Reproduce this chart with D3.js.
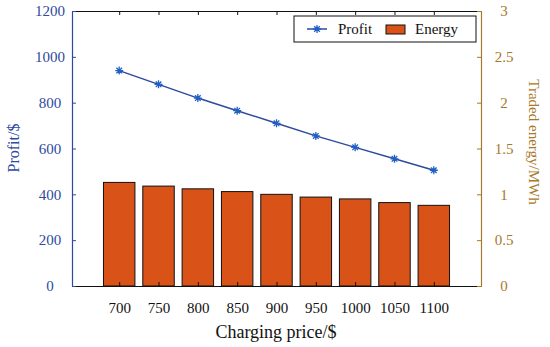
<!DOCTYPE html>
<html lang="en">
	<head>
		<meta charset="utf-8">
		<title>Profit and traded energy vs charging price</title>
		<script type="text/javascript" src="https://cdnjs.cloudflare.com/ajax/libs/d3/7.8.5/d3.min.js"></script>
		<style type="text/css">
			body { margin: 0; background: #fff; }
			svg text { font-family: "Liberation Serif", "Times New Roman", serif; }
		</style>
	</head>
	<body>
		<script type="text/javascript">

			// Size of the picture and the plot box
			var w = 550;
			var h = 347;
			var margin = { top: 11, right: 69, bottom: 61, left: 72 };
			var pw = w - margin.left - margin.right;
			var ph = h - margin.top - margin.bottom;
			var serif = "Liberation Serif, Times New Roman, serif";

			// Data
			var prices = [700, 750, 800, 850, 900, 950, 1000, 1050, 1100];
			var profit = [940, 880, 820, 765, 710, 655, 605, 555, 505];       // $
			var energy = [1.13, 1.09, 1.06, 1.03, 1.00, 0.97, 0.95, 0.91, 0.88]; // MWh
			var profitTicks = [0, 200, 400, 600, 800, 1000, 1200];
			var energyTicks = [0, 0.5, 1, 1.5, 2, 2.5, 3];

			var blue = "#2e4a9e";
			var markerBlue = "#2060c4";
			var brown = "#a8782a";
			var barFill = "#d95319";

			var svg = d3.select("body")
				.append("svg")
				.attr("width", w)
				.attr("height", h)
				.attr("font-family", serif);

			var g = svg.append("g")
				.attr("transform", "translate(" + margin.left + "," + margin.top + ")");

			// Scales
			var x = d3.scaleLinear().domain([640, 1160]).range([0, pw]);
			var yL = d3.scaleLinear().domain([0, 1200]).range([ph, 0]);
			var yR = d3.scaleLinear().domain([0, 3]).range([ph, 0]);
			var barW = x(740) - x(700);

			// Bars (energy)
			g.selectAll("rect.bar")
				.data(energy)
				.enter()
				.append("rect")
				.attr("class", "bar")
				.attr("x", function(d, i) { return x(prices[i]) - barW / 2; })
				.attr("y", function(d) { return yR(d); })
				.attr("width", barW)
				.attr("height", function(d) { return ph - yR(d); })
				.attr("fill", barFill)
				.attr("stroke", "#111")
				.attr("stroke-width", 1);

			// Profit line
			var line = d3.line()
				.x(function(d, i) { return x(prices[i]); })
				.y(function(d) { return yL(d); });

			g.append("path")
				.datum(profit)
				.attr("d", line)
				.attr("fill", "none")
				.attr("stroke", blue)
				.attr("stroke-width", 1.5);

			// asterisk marker (+ and x)
			function asterisk(sel, s) {
				var a = s * 0.7;
				sel.append("path")
					.attr("d", "M" + (-s) + ",0L" + s + ",0M0," + (-s) + "L0," + s +
						"M" + (-a) + "," + (-a) + "L" + a + "," + a +
						"M" + (-a) + "," + a + "L" + a + "," + (-a))
					.attr("stroke", markerBlue)
					.attr("stroke-width", 1.3)
					.attr("fill", "none");
			}

			g.selectAll("g.marker")
				.data(profit)
				.enter()
				.append("g")
				.attr("class", "marker")
				.attr("transform", function(d, i) { return "translate(" + x(prices[i]) + "," + yL(d) + ")"; })
				.each(function() { asterisk(d3.select(this), 4); });

			// Axes
			var fmt = function(d) { return String(d); };

			var xAxis = g.append("g")
				.attr("transform", "translate(0," + ph + ")")
				.call(d3.axisBottom(x).tickValues(prices).tickFormat(fmt).tickSizeInner(-4).tickSizeOuter(0));
			xAxis.selectAll("text").attr("y", 16).attr("fill", "#111");

			var xTop = g.append("g")
				.call(d3.axisTop(x).tickValues(prices).tickSizeInner(-4).tickSizeOuter(0).tickFormat(""));

			[xAxis, xTop].forEach(function(a) {
				a.select(".domain").attr("stroke", "#111");
				a.selectAll(".tick line").attr("stroke", "#111");
			});

			var leftAxis = g.append("g")
				.call(d3.axisLeft(yL).tickValues(profitTicks).tickFormat(fmt).tickSizeInner(-4).tickSizeOuter(0));
			leftAxis.select(".domain").attr("stroke", blue);
			leftAxis.selectAll(".tick line").attr("stroke", blue);
			leftAxis.selectAll("text")
				.attr("x", 50 - margin.left)
				.attr("text-anchor", "middle")
				.attr("fill", blue);

			var rightAxis = g.append("g")
				.attr("transform", "translate(" + pw + ",0)")
				.call(d3.axisRight(yR).tickValues(energyTicks).tickFormat(fmt).tickSizeInner(-4).tickSizeOuter(0));
			rightAxis.select(".domain").attr("stroke", brown);
			rightAxis.selectAll(".tick line").attr("stroke", brown);
			rightAxis.selectAll("text")
				.attr("x", 504 - margin.left - pw)
				.attr("text-anchor", "middle")
				.attr("fill", brown);

			[xAxis, xTop, leftAxis, rightAxis].forEach(function(a) {
				a.attr("font-family", serif).attr("font-size", 15);
				a.select(".domain").attr("stroke-width", 1.2);
			});

			// Axis titles
			svg.append("text")
				.attr("x", 276)
				.attr("y", 338)
				.attr("text-anchor", "middle")
				.attr("font-size", 18)
				.attr("fill", "#111")
				.text("Charging price/$");

			svg.append("text")
				.attr("transform", "translate(19,148) rotate(-90)")
				.attr("text-anchor", "middle")
				.attr("font-size", 16)
				.attr("fill", blue)
				.text("Profit/$");

			svg.append("text")
				.attr("transform", "translate(529,142) rotate(90)")
				.attr("text-anchor", "middle")
				.attr("font-size", 15)
				.attr("fill", brown)
				.text("Traded energy/MWh");

			// Legend
			var lg = svg.append("g");
			lg.append("rect")
				.attr("x", 294).attr("y", 16)
				.attr("width", 182).attr("height", 26)
				.attr("fill", "#fff")
				.attr("stroke", "#111")
				.attr("stroke-width", 1);
			lg.append("line")
				.attr("x1", 307).attr("x2", 327)
				.attr("y1", 29).attr("y2", 29)
				.attr("stroke", blue).attr("stroke-width", 1.5);
			asterisk(lg.append("g").attr("transform", "translate(317,29)"), 4);
			lg.append("text")
				.attr("x", 338).attr("y", 34)
				.attr("font-size", 15).attr("fill", "#111")
				.text("Profit");
			lg.append("rect")
				.attr("x", 386).attr("y", 25)
				.attr("width", 19).attr("height", 9)
				.attr("fill", barFill).attr("stroke", "#111");
			lg.append("text")
				.attr("x", 415).attr("y", 34)
				.attr("font-size", 15).attr("fill", "#111")
				.text("Energy");

		</script>
	</body>
</html>
